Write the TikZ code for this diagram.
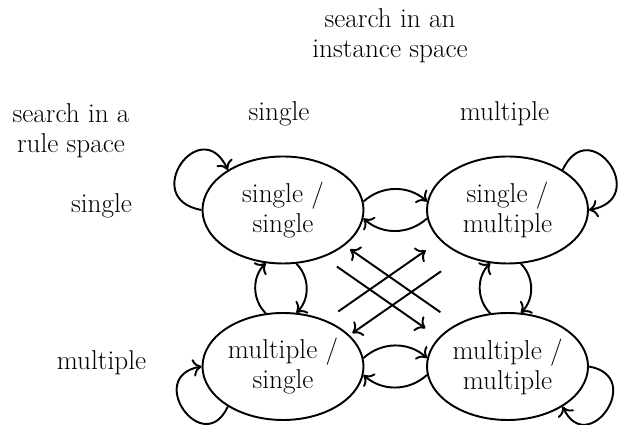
\documentclass[tikz,border=0pt]{standalone}
\usepackage{fontspec}
\usepackage{tikz}
\usetikzlibrary{calc,shapes,arrows.meta}

\tikzset{
  state/.style={draw,ellipse,align=center,minimum width=3.22cm,minimum height=2.14cm,inner xsep=-3pt,inner ysep=0pt},
  >={To[length=5pt,width=10pt]}
}

\begin{document}
\begin{tikzpicture}[line width=1.1pt,font=\fontsize{15.5}{17.1}\selectfont]
  \useasboundingbox (0,0) rectangle (12.48,8.5);
  % headings
  \node [align=center] (inst) at (7.80,7.79) {search in an\\instance space};
  \node [align=center] (rule) at (1.42,5.89) {search in a\\rule space};
  \node [anchor=base] (colS) at (5.58,6.08) {single};
  \node [anchor=base] (colM) at (10.09,6.08) {multiple};
  \node [anchor=base] (rowS) at (2.03,4.24) {single};
  \node [anchor=base] (rowM) at (2.03,1.11) {multiple};
  % states
  \node [state] (ss) at (5.66,4.30) {single /\\single};
  \node [state] (sm) at (10.15,4.30) {single /\\multiple};
  \node [state] (ms) at (5.66,1.17) {multiple /\\single};
  \node [state] (mm) at (10.15,1.17) {multiple /\\multiple};
  % loops
  \draw[->] (ss.west) to[out=170,in=115,looseness=3.4] (ss.144);
  \draw[->] (sm.36) to[out=65,in=10,looseness=3.4] (sm.east);
  \draw[->] (mm.east) to[out=-10,in=-65,looseness=3.1] (mm.-36);
  \draw[->] (ms.216) to[out=245,in=190,looseness=3.1] (ms.west);
  % left/right
  \draw[->] (ss.6) to[out=42,in=138] (sm.174);
  \draw[->] (sm.186) to[out=-138,in=-42] (ss.-6);
  \draw[->] (ms.6) to[out=42,in=138] (mm.174);
  \draw[->] (mm.186) to[out=-138,in=-42] (ms.-6);
  % up/down
  \draw[->] (ss.-76) to[out=-45,in=45] (ms.76);
  \draw[->] (ms.108) to[out=135,in=-135] (ss.-108);
  \draw[->] (sm.-76) to[out=-45,in=45] (mm.76);
  \draw[->] (mm.108) to[out=135,in=-135] (sm.-108);
  % diagonals
  \draw[->] ($(ss)!.24!(mm)+(0,-.38)$) -- ($(ss)!.634!(mm)+(0,-.38)$);
  \draw[->] ($(mm)!.299!(ss)+(0,.15)$) -- ($(mm)!.701!(ss)+(0,.15)$);
  \draw[->] ($(ms)!.246!(sm)+(0,.33)$) -- ($(ms)!.636!(sm)+(0,.33)$);
  \draw[->] ($(sm)!.296!(ms)+(0,-.30)$) -- ($(sm)!.691!(ms)+(0,-.30)$);
\end{tikzpicture}
\end{document}
